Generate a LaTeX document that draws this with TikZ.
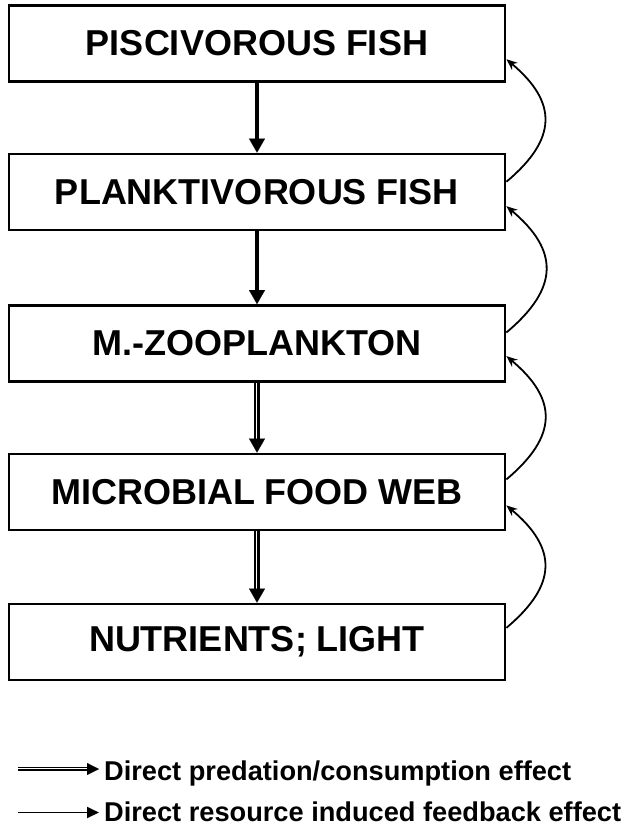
\documentclass[tikz,border=0pt]{standalone}
\usepackage{fontspec}
\setmainfont{Liberation Sans}
\usetikzlibrary{arrows.meta,calc}
\begin{document}
\begin{tikzpicture}[x=1pt,y=1pt,
  box/.style={draw,line width=2.8pt,minimum width=496pt,minimum height=76pt,inner sep=0pt,
    font=\fontsize{36}{40}\selectfont\bfseries},
  solidpred/.style={line width=3.8pt,shorten >=10pt},
  dblpred/.style={double,double distance=2.2pt,line width=1.5pt,shorten >=10pt},
  predhead/.style={line width=0.1pt,-{Triangle[length=14pt,width=16pt]}},
  fb/.style={line width=1.8pt,-{Stealth[length=11pt,width=9pt]}},
  legtext/.style={anchor=base west,inner sep=0pt,font=\fontsize{27.2}{30}\selectfont\bfseries}
]
\useasboundingbox (0,0) rectangle (637,-827);

\node[box] (pisc)  at (257,-43.5) {PISCIVOROUS FISH};
\node[box] (plank) at (257,-192)  {PLANKTIVOROUS FISH};
\node[box] (zoo)   at (257,-343.5){M.-ZOOPLANKTON};
\node[box] (micro) at (257,-492)  {MICROBIAL FOOD WEB};
\node[box] (nutr)  at (257,-642)  {NUTRIENTS; LIGHT};

% predation arrows (down)
\draw[solidpred] (pisc.south) -- (plank.north);
\draw[predhead] (pisc.south) -- (plank.north);
\draw[solidpred] (plank.south) -- (zoo.north);
\draw[predhead] (plank.south) -- (zoo.north);
\draw[dblpred] (zoo.south) -- (micro.north);
\draw[predhead] (zoo.south) -- (micro.north);
\draw[dblpred] (micro.south) -- (nutr.north);
\draw[predhead] (micro.south) -- (nutr.north);

% feedback arcs (up, on the right)
\coordinate (s2) at ($(plank.north east)!0.37!(plank.south east)$);
\coordinate (e1) at ($(pisc.north east)!0.70!(pisc.south east)$);
\coordinate (s3) at ($(zoo.north east)!0.36!(zoo.south east)$);
\coordinate (e2) at ($(plank.north east)!0.68!(plank.south east)$);
\coordinate (s4) at ($(micro.north east)!0.34!(micro.south east)$);
\coordinate (e3) at ($(zoo.north east)!0.66!(zoo.south east)$);
\coordinate (s5) at ($(nutr.north east)!0.32!(nutr.south east)$);
\coordinate (e4) at ($(micro.north east)!0.67!(micro.south east)$);
\draw[fb] (s2) to[out=40,in=-40,looseness=1.4] (e1);
\draw[fb] (s3) to[out=40,in=-40,looseness=1.4] (e2);
\draw[fb] (s4) to[out=40,in=-40,looseness=1.4] (e3);
\draw[fb] (s5) to[out=40,in=-40,looseness=1.4] (e4);

% legend
\coordinate (l1a) at (18,-769);
\coordinate (l1b) at (99,-769);
\coordinate (l2a) at (18,-812.5);
\coordinate (l2b) at (99,-812.5);
\draw[double,double distance=1.8pt,line width=1.3pt,shorten >=9pt] (l1a) -- (l1b);
\draw[line width=0.1pt,-{Triangle[length=12pt,width=12pt]}] (l1a) -- (l1b);
\draw[line width=1.8pt,-{Triangle[length=12pt,width=11pt]}] (l2a) -- (l2b);
\node[legtext] (t1) at (104,-780) {Direct predation/consumption effect};
\node[legtext] (t2) at (104,-821.5) {Direct resource induced feedback effect};
\end{tikzpicture}
\end{document}
